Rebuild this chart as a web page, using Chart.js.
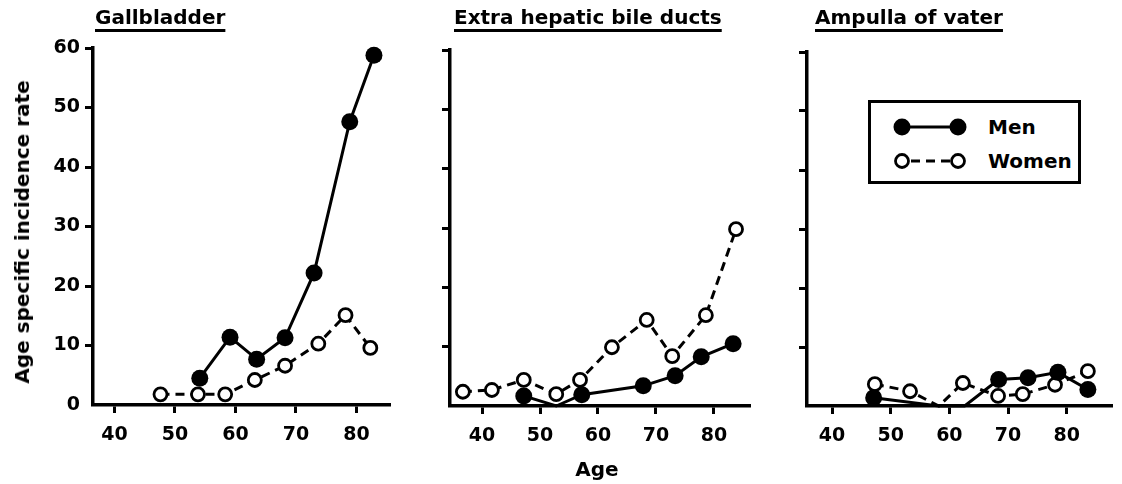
<!DOCTYPE html>
<html>
<head>
<meta charset="utf-8">
<script src="https://cdn.jsdelivr.net/npm/chart.js@4.4.1/dist/chart.umd.min.js"></script>
<style>
body{margin:0;background:#fff;}
#wrap{position:relative;width:1122px;height:484px;overflow:hidden;font-family:"DejaVu Sans",sans-serif;font-weight:bold;color:#000;}
#wrap canvas{position:absolute;top:0;}
.title{position:absolute;top:5px;font-size:20px;line-height:24px;white-space:nowrap;text-decoration:underline;text-decoration-thickness:2.5px;text-underline-offset:5px;}
#ylabel{position:absolute;left:22px;top:232px;font-size:20px;white-space:nowrap;transform:translate(-50%,-50%) rotate(-90deg);}
#xlabel{position:absolute;left:597px;top:469px;font-size:20px;transform:translate(-50%,-50%);}
#legend{position:absolute;left:868px;top:100px;width:213px;height:84px;box-sizing:border-box;border:3px solid #000;background:#fff;}
#legend svg{position:absolute;left:0;top:0;}
#legend span{position:absolute;left:117px;font-size:20px;line-height:24px;}
</style>
</head>
<body>
<div id="wrap">
    <canvas id="gb" width="400" height="484" style="left:0px"></canvas>
    <canvas id="eh" width="360" height="484" style="left:400px"></canvas>
    <canvas id="av" width="362" height="484" style="left:760px"></canvas>

    <div class="title" style="left:95px">Gallbladder</div>
    <div class="title" style="left:454px">Extra hepatic bile ducts</div>
    <div class="title" style="left:815px">Ampulla of vater</div>
    <div id="ylabel">Age specific incidence rate</div>
    <div id="xlabel">Age</div>

    <div id="legend">
        <svg width="110" height="78">
            <line x1="31" y1="24" x2="87" y2="24" stroke="#000" stroke-width="3"/>
            <circle cx="31" cy="24" r="8.5" fill="#000"/>
            <circle cx="87" cy="24" r="8.5" fill="#000"/>
            <line x1="40" y1="58" x2="79" y2="58" stroke="#000" stroke-width="3" stroke-dasharray="9,6"/>
            <circle cx="31" cy="58" r="6.5" fill="#fff" stroke="#000" stroke-width="2.8"/>
            <circle cx="87" cy="58" r="6.5" fill="#fff" stroke="#000" stroke-width="2.8"/>
        </svg>
        <span style="top:12px">Men</span>
        <span style="top:46px">Women</span>
    </div>
</div>

<script>
// tick labels
var ageTicks = [40, 50, 60, 70, 80];
var rateTicks = [0, 10, 20, 30, 40, 50, 60];

// Gallbladder
var gbMenAge = [54.1, 59.1, 63.5, 68.2, 73.0, 78.9, 82.9];
var gbMenRate = [4.5, 11.4, 7.7, 11.3, 22.2, 47.6, 58.8];
var gbWomenAge = [47.6, 53.8, 58.3, 63.2, 68.2, 73.7, 78.2, 82.3];
var gbWomenRate = [1.8, 1.8, 1.8, 4.2, 6.6, 10.3, 15.1, 9.6];

// Extra hepatic bile ducts
var ehMenAge = [47.2, 52.8, 57.2, 67.8, 73.3, 77.8, 83.3];
var ehMenRate = [1.7, 0, 1.9, 3.4, 5.1, 8.3, 10.5];
var ehWomenAge = [36.7, 41.7, 47.2, 52.8, 56.9, 62.4, 68.4, 72.8, 78.6, 83.8];
var ehWomenRate = [2.4, 2.7, 4.4, 2.0, 4.4, 9.9, 14.5, 8.4, 15.3, 29.8];

// Ampulla of vater
var avMenAge = [47.1, 58.2, 62.6, 68.4, 73.4, 78.5, 83.6];
var avMenRate = [1.4, 0, 0, 4.5, 4.8, 5.7, 2.8];
var avWomenAge = [47.3, 53.3, 58.2, 62.3, 68.3, 72.5, 78.0, 83.6];
var avWomenRate = [3.7, 2.5, 0, 3.9, 1.7, 2.0, 3.6, 5.9];

var tickFont = {family: "DejaVu Sans", size: 19, weight: "bold"};

function toPoints(ages, rates){
    var pts = [];
    for(var i=0;i<ages.length;i++){
        pts.push({x: ages[i], y: rates[i]});
    }
    return pts;
}

// points sitting on zero are not marked in the original
function hideZero(r){
    return function(ctx){
        if(ctx.raw && ctx.raw.y === 0){return 0;}
        return r;
    };
}

function makePanel(id, menAge, menRate, womenAge, womenRate, p){
    var ctx = document.getElementById(id);
    return new Chart(ctx, {
        type: 'line',
        data: {
            datasets: [{
                label: "Men",
                data: toPoints(menAge, menRate),
                borderColor: "#000",
                backgroundColor: "#000",
                borderWidth: 3,
                pointRadius: hideZero(8.5),
                pointBackgroundColor: "#000",
                pointBorderWidth: 0,
                tension: 0,
                clip: false
            }, {
                label: "Women",
                data: toPoints(womenAge, womenRate),
                borderColor: "#000",
                borderWidth: 3,
                borderDash: [9, 6],
                pointRadius: hideZero(6.5),
                pointBackgroundColor: "#fff",
                pointBorderColor: "#000",
                pointBorderWidth: 2.8,
                tension: 0,
                clip: false
            }]
        },
        options: {
            responsive: false,
            animation: false,
            events: [],
            layout: {padding: {top: p.top, right: p.right, left: 0, bottom: 0}},
            plugins: {legend: {display: false}, tooltip: {enabled: false}},
            scales: {
                x: {
                    type: 'linear',
                    min: p.xmin,
                    max: p.xmax,
                    afterBuildTicks: function(s){
                        s.ticks = ageTicks.map(function(v){return {value: v};});
                    },
                    afterFit: function(s){ s.height = 484 - p.bottom; },
                    grid: {drawOnChartArea: false, drawTicks: true, tickLength: 8, tickWidth: 3, tickColor: "#000"},
                    border: {display: true, color: "#000", width: 3.5},
                    ticks: {color: "#000", font: tickFont, padding: 11, maxRotation: 0, autoSkip: false}
                },
                y: {
                    type: 'linear',
                    min: 0,
                    max: 60,
                    afterBuildTicks: function(s){
                        s.ticks = rateTicks.map(function(v){return {value: v};});
                    },
                    afterFit: function(s){ s.width = p.axisX; },
                    grid: {
                        drawOnChartArea: false, drawTicks: true, tickLength: 8, tickWidth: 3,
                        tickColor: function(c){ return c.tick && c.tick.value === 0 ? "rgba(0,0,0,0)" : "#000"; }
                    },
                    border: {display: true, color: "#000", width: 3.5},
                    ticks: {
                        display: p.labels, color: "#000", font: tickFont, padding: 5,
                        callback: function(v){ return v; }
                    }
                }
            }
        }
    });
}

makePanel("gb", gbMenAge, gbMenRate, gbWomenAge, gbWomenRate,
    {top: 48, bottom: 405, right: 3, axisX: 93, xmin: 36.44, xmax: 85.67, labels: true});
makePanel("eh", ehMenAge, ehMenRate, ehWomenAge, ehWomenRate,
    {top: 50, bottom: 406, right: 10, axisX: 50, xmin: 34.48, xmax: 86.21, labels: false});
makePanel("av", avMenAge, avMenRate, avWomenAge, avWomenRate,
    {top: 52, bottom: 406, right: 9, axisX: 47, xmin: 35.74, xmax: 87.83, labels: false});
</script>
</body>
</html>
